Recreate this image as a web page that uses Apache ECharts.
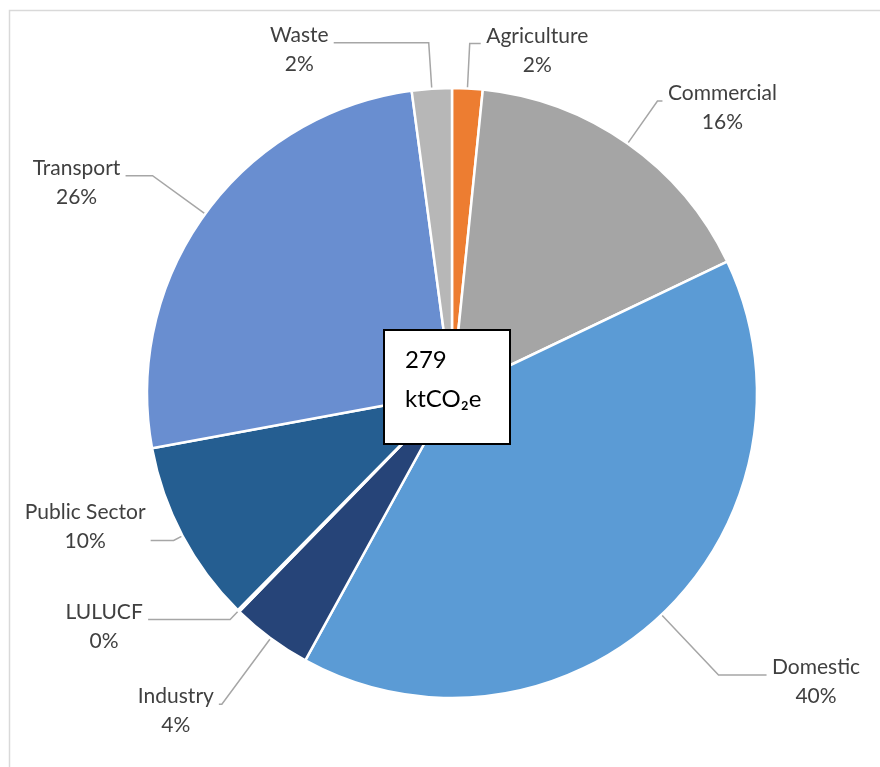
<!DOCTYPE html>
<html>
<head>
<meta charset="utf-8">
<script src="https://cdn.jsdelivr.net/npm/echarts@6/dist/echarts.min.js"></script>
<style>
  html, body { margin: 0; padding: 0; background: #fff; }
  #chart { width: 880px; height: 767px; }
</style>
</head>
<body>
<div id="chart"></div>
<script>
// emissions by sector, ktCO2e
var sectors = ['Agriculture', 'Commercial', 'Domestic', 'Industry', 'LULUCF', 'Public Sector', 'Transport', 'Waste']
var emissions = [4.5, 45.5, 111.9, 12.0, 0.3, 27.1, 72.0, 5.9]
var colors = ['#ED7D31', '#A5A5A5', '#5B9BD5', '#264478', '#9E480E', '#255E91', '#698ED0', '#B7B7B7']
// leader line lengths per slice [radial, horizontal]
var lineLen = [[45, 11], [52, 5], [83, 48], [82, 3], [12, 82], [10, 23], [65, 27], [46, 95]]
// label padding so the leader meets the text baseline like Excel does
var labelPad = [[14, 0, 0, 0], [14, 0, 0, 0], [14, 0, 0, 0], [14, 0, 0, 0], [14, 0, 0, 0], [0, 0, 28, 0], [14, 0, 0, 0], [14, 0, 0, 0]]

var FONT = 'Lato, "Noto Sans", sans-serif'
var FS = 21
var total = emissions.reduce(function (a, b) { return a + b }, 0)

var ctx = document.createElement('canvas').getContext('2d')
ctx.font = FS + 'px ' + FONT
function textW(s) { return Math.ceil(ctx.measureText(s).width) }
function pct(v) { return Math.round(v / total * 100) + '%' }

var rich = {}
var data = sectors.map(function (name, i) {
  rich['c' + i] = {
    width: Math.max(textW(name), textW(pct(emissions[i]))),
    align: 'center',
    fontSize: FS,
    lineHeight: 29,
    color: '#404040',
    fontFamily: FONT
  }
  return {
    name: name,
    value: emissions[i],
    itemStyle: { color: colors[i] },
    label: { padding: labelPad[i] },
    labelLine: { length: lineLen[i][0], length2: lineLen[i][1] }
  }
})

var chart = echarts.init(document.getElementById('chart'))
chart.setOption({
  backgroundColor: '#fff',
  animation: false,
  graphic: [
    {
      type: 'rect',
      z: 0,
      shape: { x: 9.5, y: 10.5, width: 900, height: 800 },
      style: { fill: 'none', stroke: '#D9D9D9', lineWidth: 1.5 }
    },
    {
      type: 'rect',
      z: 100,
      shape: { x: 384, y: 330, width: 126, height: 114 },
      style: { fill: '#fff', stroke: '#000', lineWidth: 2 }
    },
    {
      type: 'text',
      z: 101,
      x: 405,
      y: 341,
      style: {
        text: Math.round(total) + '\nktCO₂e',
        fontSize: 24,
        lineHeight: 39,
        fill: '#000',
        fontFamily: FONT
      }
    }
  ],
  series: [
    {
      type: 'pie',
      center: [452, 393],
      radius: 305,
      startAngle: 90,
      clockwise: true,
      avoidLabelOverlap: false,
      itemStyle: { borderColor: '#fff', borderWidth: 2.5 },
      label: {
        show: true,
        position: 'outside',
        formatter: function (p) {
          var k = 'c' + p.dataIndex
          return '{' + k + '|' + p.name + '}\n{' + k + '|' + Math.round(p.percent) + '%}'
        },
        rich: rich
      },
      labelLine: {
        show: true,
        smooth: false,
        lineStyle: { color: '#A6A6A6', width: 1.5 }
      },
      emphasis: { disabled: true },
      data: data
    }
  ]
})
</script>
</body>
</html>
